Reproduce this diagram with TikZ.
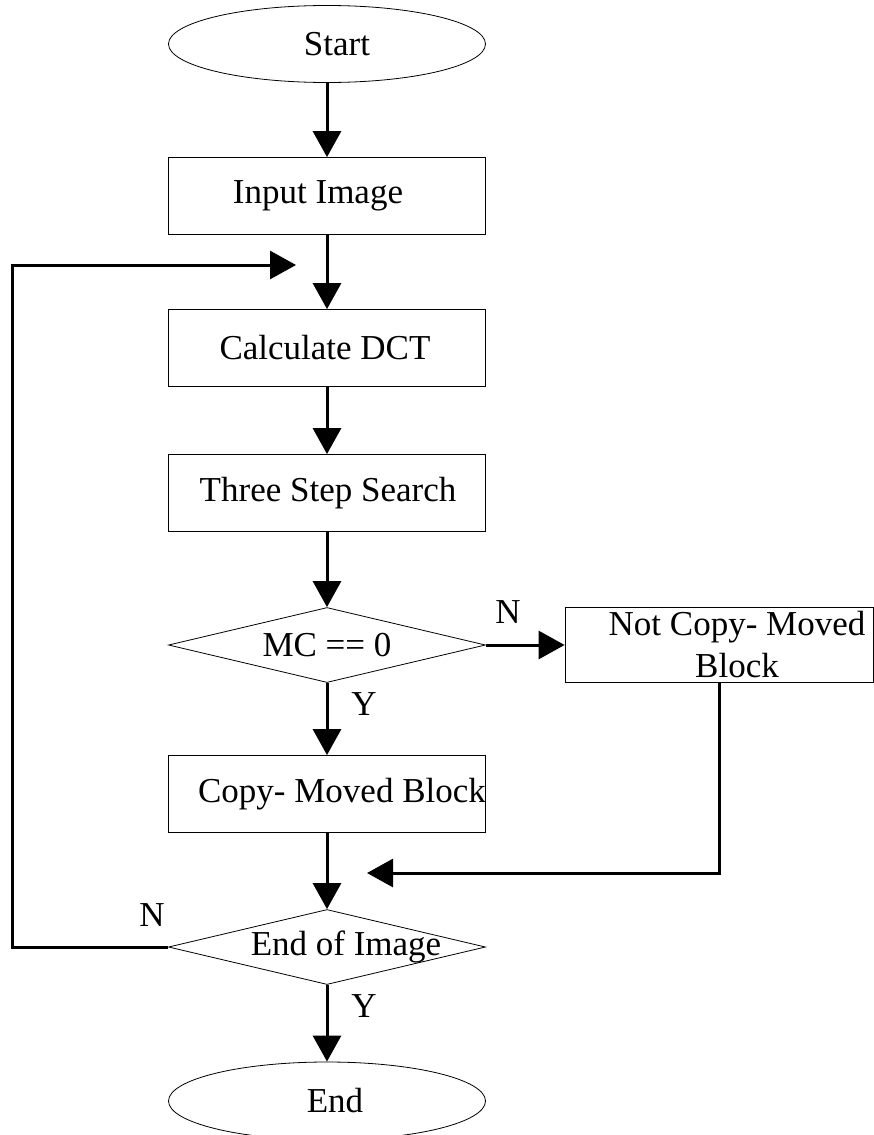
\documentclass[tikz,border=0pt]{standalone}
\usepackage{fontspec}
\setmainfont{Liberation Serif}
\usetikzlibrary{shapes.geometric,arrows.meta}
\newcommand{\shifted}[2]{\makebox[0pt]{\hspace{#1}#2}}
\begin{document}
\begin{tikzpicture}[x=1pt,y=-1pt,
  every node/.style={font=\fontsize{35}{42}\selectfont},
  box/.style={draw,line width=0.8pt,rectangle,minimum width=317pt,minimum height=77pt,inner sep=0pt},
  oval/.style={draw,line width=0.8pt,ellipse,minimum width=317pt,minimum height=77pt,inner sep=0pt},
  dia/.style={draw,line width=0.8pt,diamond,minimum width=317pt,minimum height=75pt,inner sep=0pt},
  flow/.style={line width=3pt,-{Triangle[length=26pt,width=28pt]}},
  lbl/.style={inner sep=0pt}]
\useasboundingbox (0,0) rectangle (873,1135);
\node[oval] (start) at (327,44) {\shifted{20pt}{Start}};
\node[box] (input) at (327,196) {\shifted{-18pt}{Input Image}};
\node[box] (dct) at (327,348) {\shifted{-4pt}{Calculate DCT}};
\node[box] (tss) at (327,493) {\shifted{2pt}{Three Step Search}};
\node[dia] (mc) at (327,645) {\makebox[0pt]{MC == 0}};
\node[box,minimum width=308pt,minimum height=75pt] (notcopy) at (719,645) {};
\node[lbl,align=center] (notcopytext) at (737,645) {Not Copy- Moved\\Block};
\node[box] (copy) at (327,794) {\shifted{30pt}{Copy- Moved Block}};
\node[dia] (eoi) at (327,947) {\shifted{38pt}{End of Image}};
\node[oval,minimum height=78pt] (end) at (327,1101) {\shifted{16pt}{End}};
\coordinate (loopin) at (296,265);
\coordinate (mergein) at (367,873);
\draw[flow] (start) -- (input);
\draw[flow] (input) -- (dct);
\draw[flow] (dct) -- (tss);
\draw[flow] (tss) -- (mc);
\draw[flow] (mc) -- (copy);
\draw[flow] (mc) -- (notcopy);
\draw[flow] (copy) -- (eoi);
\draw[flow] (eoi) -- (end);
\draw[flow] (eoi.west) -- (12,947) |- (loopin);
\draw[flow] (notcopy.south) |- (mergein);
\node[lbl] (n1) at (508,612) {N};
\node[lbl] (y1) at (364,704) {Y};
\node[lbl] (n2) at (152,915) {N};
\node[lbl] (y2) at (364,1006) {Y};
\end{tikzpicture}
\end{document}
